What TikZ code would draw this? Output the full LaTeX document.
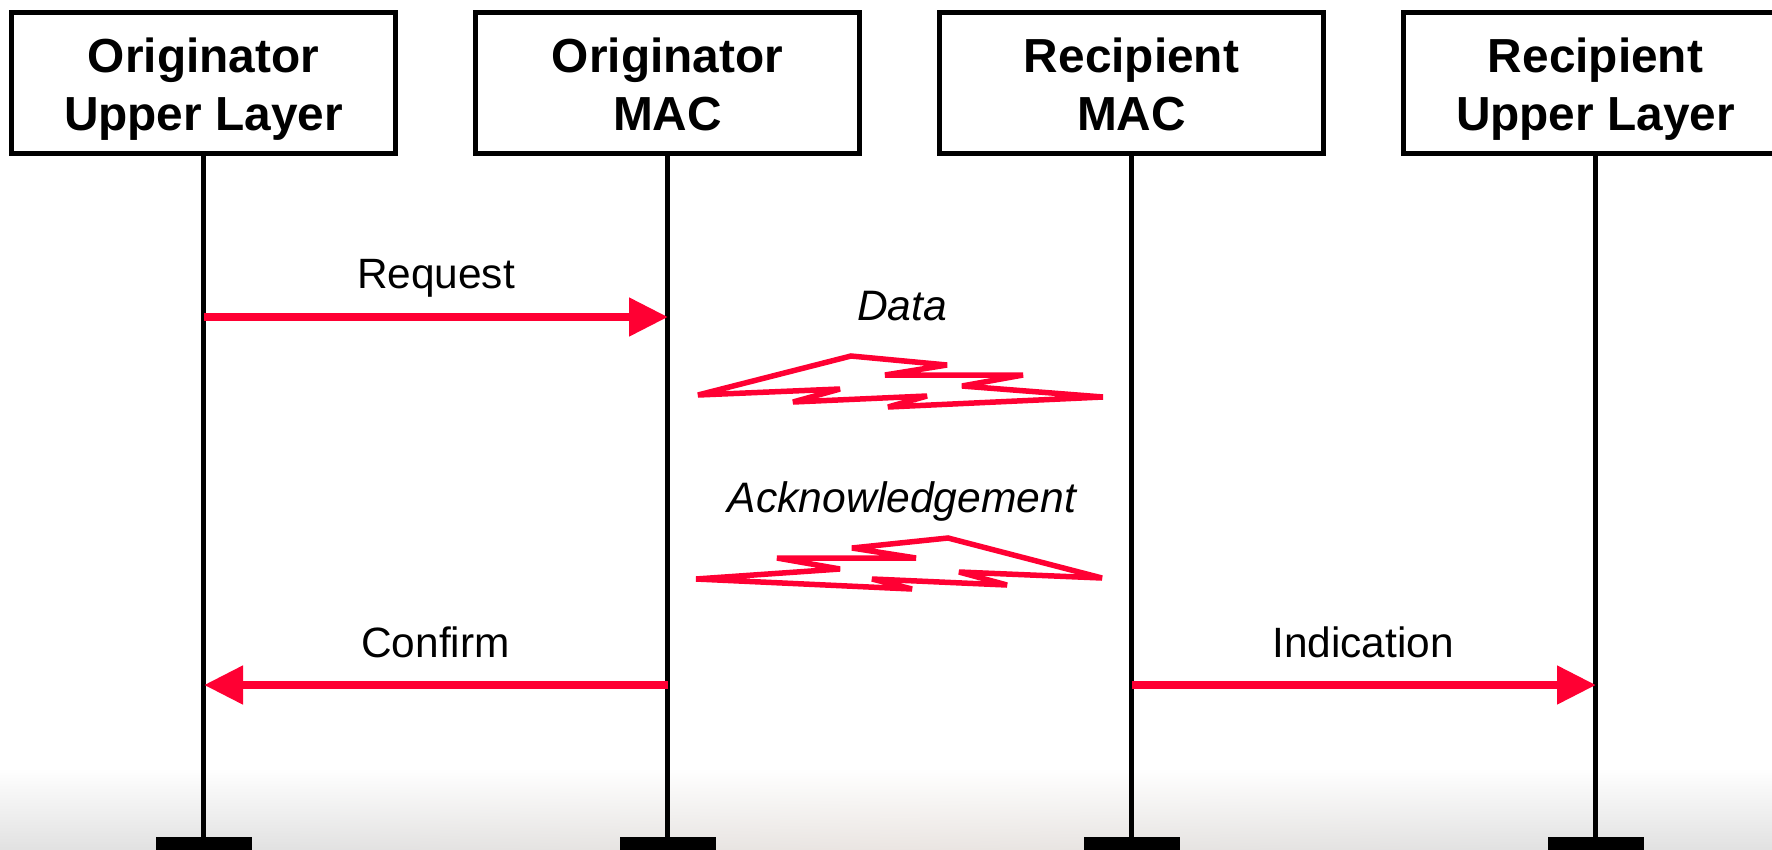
\documentclass[tikz,border=0pt]{standalone}
\usepackage{fontspec}
\setmainfont{Liberation Sans}
\usetikzlibrary{arrows.meta}
\definecolor{sigred}{HTML}{FF0033}
\tikzset{
  every node/.style={inner sep=0pt,outer sep=0pt},
  layerbox/.style={draw=black,line width=5pt,fill=white,minimum width=384pt,minimum height=141pt,align=center,
    text height=102pt,text depth=8pt,font=\fontsize{47.8}{58}\selectfont\bfseries},
  foot/.style={fill=black,minimum width=96pt,minimum height=24pt},
  lifeline/.style={draw=black,line width=5pt,shorten <=2pt},
  primitive/.style={draw=sigred,line width=8pt,-{Triangle[length=39pt,width=37pt]},sigred},
  primlabel/.style={anchor=base,font=\fontsize{42.4}{50}\selectfont},
  framelabel/.style={anchor=base,font=\fontsize{42.6}{50}\selectfont\itshape},
  bolt/.style={draw=sigred,line width=5.5pt,line join=miter,miter limit=5}
}
\begin{document}
\begin{tikzpicture}[x=1pt,y=-1pt]
\path[use as bounding box,clip] (0,0) rectangle (1772,849);
\fill[white] (0,0) rectangle (1772,849);
% bottom background wash
\foreach \sx in {0,20,...,1760}{
  \pgfmathsetmacro{\warm}{max(0,1-abs(\sx-886)/600)}
  \pgfmathsetmacro{\cr}{.885+.035*\warm}
  \pgfmathsetmacro{\cg}{.885+.015*\warm}
  \pgfmathsetmacro{\cb}{.885+.002*\warm}
  \definecolor{stripc}{rgb}{\cr,\cg,\cb}
  \shade[top color=white,bottom color=stripc] (\sx,768) rectangle (\sx+21,849);
}

% header boxes
\node[layerbox] (ou) at (203.5,83) {Originator\\Upper Layer};
\node[layerbox] (om) at (667.5,83) {Originator\\MAC};
\node[layerbox] (rm) at (1131.5,83) {Recipient\\MAC};
\node[layerbox] (ru) at (1595.5,83) {Recipient\\Upper Layer};

% feet
\node[foot] (fou) at (203.5,849) {};
\node[foot] (fom) at (667.5,849) {};
\node[foot] (frm) at (1131.5,849) {};
\node[foot] (fru) at (1595.5,849) {};

% lifelines
\draw[lifeline] (ou.south) -- (fou.north);
\draw[lifeline] (om.south) -- (fom.north);
\draw[lifeline] (rm.south) -- (frm.north);
\draw[lifeline] (ru.south) -- (fru.north);

% arrow end points on lifelines
\coordinate (reqa) at (204,317);
\coordinate (reqb) at (668,317);
\coordinate (cfma) at (668,685);
\coordinate (cfmb) at (204,685);
\coordinate (inda) at (1132,685);
\coordinate (indb) at (1596,685);

\draw[primitive] (reqa) -- (reqb);
\draw[primitive] (cfma) -- (cfmb);
\draw[primitive] (inda) -- (indb);

\node[primlabel] (lreq) at (436,288) {Request};
\node[primlabel] (lcfm) at (435.5,657) {Confirm};
\node[primlabel] (lind) at (1363,657) {Indication};
\node[framelabel] (ldat) at (902,320) {Data};
\node[framelabel] (lack) at (902,512) {Acknowledgement};

% lightning bolts
\draw[bolt] (698,395) -- (851,356) -- (947,365) -- (885,375) -- (1023,375) -- (962,386) -- (1103,397)
  -- (888,407) -- (927,396) -- (793,402) -- (840,389) -- cycle;
\draw[bolt] (696,579) -- (840,569) -- (777,558) -- (916,558) -- (852,548) -- (948,538) -- (1102,578)
  -- (959,572) -- (1007,585) -- (872,579) -- (912,589) -- cycle;
\end{tikzpicture}
\end{document}
